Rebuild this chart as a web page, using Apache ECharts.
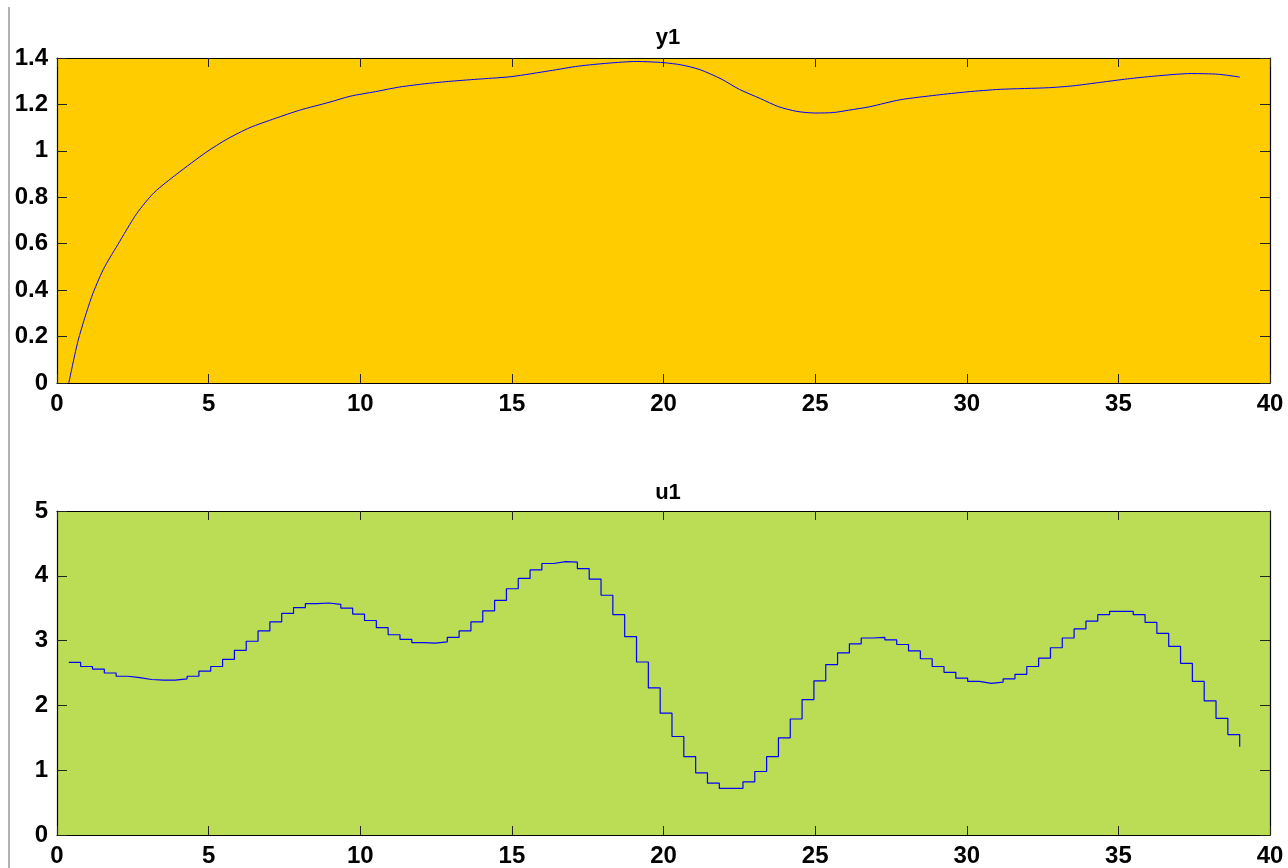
<!DOCTYPE html>
<html>
<head>
<meta charset="utf-8">
<script src="https://cdn.jsdelivr.net/npm/echarts@6/dist/echarts.min.js"></script>
<style>
html,body{margin:0;padding:0;background:#fff;}
#chart{width:1288px;height:868px;}
</style>
</head>
<body>
<div id="chart"></div>
<script>
// ---- data ----
const titles = ['y1', 'u1'];
const xTicks = [0, 5, 10, 15, 20, 25, 30, 35, 40];
const y1Ticks = [0, 0.2, 0.4, 0.6, 0.8, 1, 1.2, 1.4];
const u1Ticks = [0, 1, 2, 3, 4, 5];

// y1 curve: [time, value] pairs
const y1Time = [0.39, 0.7, 1.14, 1.53, 2.0, 2.63, 3.2, 3.95, 4.93, 5.6, 6.36, 7.2, 8.0, 9.0, 9.66,
  10.5, 11.3, 12.2, 13, 14, 15, 16.25, 17.2, 18.2, 19.1, 20, 20.6, 21.2, 21.9, 22.5, 23.2, 23.8,
  24.4, 25, 25.6, 26.1, 26.8, 27.8, 29, 30, 31.1, 32.7, 33.5, 34.4, 35.3, 36.2, 37.4, 38.3, 39];
const y1Values = [0, 0.185, 0.37, 0.49, 0.595, 0.73, 0.82, 0.9, 0.995, 1.05, 1.1, 1.14, 1.175, 1.21, 1.235,
  1.255, 1.275, 1.29, 1.3, 1.31, 1.32, 1.345, 1.365, 1.378, 1.385, 1.38, 1.37, 1.35, 1.31, 1.265, 1.225, 1.19,
  1.17, 1.163, 1.165, 1.175, 1.19, 1.22, 1.24, 1.254, 1.265, 1.272, 1.28, 1.295, 1.31, 1.322, 1.333, 1.33, 1.318];

// u1 staircase: sample period and sample values
const u1SamplePeriod = 0.39;
const u1Values = [2.665, 2.60, 2.56, 2.50, 2.45, 2.43, 2.40, 2.39, 2.39, 2.41,
  2.45, 2.53, 2.60, 2.71, 2.85, 2.99, 3.15, 3.29, 3.42, 3.51,
  3.57, 3.58, 3.56, 3.50, 3.41, 3.31, 3.20, 3.09, 3.02, 2.97,
  2.96, 2.98, 3.05, 3.15, 3.29, 3.46, 3.62, 3.80, 3.96, 4.09,
  4.19, 4.22, 4.21, 4.11, 3.95, 3.70, 3.40, 3.06, 2.67, 2.27,
  1.88, 1.52, 1.21, 0.96, 0.80, 0.72, 0.72, 0.82, 0.98, 1.21,
  1.50, 1.79, 2.09, 2.38, 2.63, 2.81, 2.95, 3.04, 3.05, 3.01,
  2.94, 2.84, 2.72, 2.60, 2.51, 2.42, 2.37, 2.34, 2.36, 2.41,
  2.48, 2.60, 2.73, 2.89, 3.04, 3.18, 3.30, 3.40, 3.45, 3.45,
  3.40, 3.28, 3.11, 2.91, 2.65, 2.37, 2.07, 1.80, 1.55, 1.36];

// ---- chart ----
const y1Data = y1Time.map((t, i) => [t, y1Values[i]]);
const u1Data = u1Values.map((v, i) => [+(u1SamplePeriod * (i + 1)).toFixed(2), v]);

const FONT = 'Liberation Sans';
const labelStyle = { color: '#000', fontFamily: FONT, fontWeight: 'bold', fontSize: 24 };
const G = [
  { left: 57, top: 58, width: 1213, height: 325 },
  { left: 57, top: 511, width: 1213, height: 327 }
];
const bg = ['#ffcc00', '#bbdd55'];

function xAx(grid, pos, showLabel) {
  return {
    type: 'value', gridIndex: grid, position: pos, min: xTicks[0], max: xTicks[xTicks.length - 1],
    interval: xTicks[1] - xTicks[0],
    axisLine: { show: true, onZero: false, lineStyle: { color: '#000', width: 1.2 } },
    axisTick: { show: true, inside: true, length: 9, lineStyle: { color: '#222', width: 1 } },
    axisLabel: Object.assign({ show: showLabel, margin: 9 }, labelStyle),
    splitLine: { show: false }
  };
}
function yAx(grid, pos, ticks, showLabel) {
  return {
    type: 'value', gridIndex: grid, position: pos, min: ticks[0], max: ticks[ticks.length - 1],
    interval: +(ticks[1] - ticks[0]).toFixed(4),
    axisLine: { show: true, onZero: false, lineStyle: { color: '#000', width: 1.2 } },
    axisTick: { show: true, inside: true, length: 10, lineStyle: { color: '#222', width: 1 } },
    axisLabel: Object.assign({ show: showLabel, margin: 9 }, labelStyle),
    splitLine: { show: false }
  };
}

const chart = echarts.init(document.getElementById('chart'), null, { renderer: 'canvas' });
chart.setOption({
  animation: false,
  backgroundColor: '#fff',
  title: [
    { text: titles[0], left: 663, top: 22, textAlign: 'center',
      textStyle: { fontFamily: FONT, fontWeight: 'bold', fontSize: 22, color: '#000' } },
    { text: titles[1], left: 663, top: 477, textAlign: 'center',
      textStyle: { fontFamily: FONT, fontWeight: 'bold', fontSize: 22, color: '#000' } }
  ],
  grid: G.map((g, i) => Object.assign({ show: true, backgroundColor: bg[i], borderWidth: 0, containLabel: false }, g)),
  xAxis: [xAx(0, 'bottom', true), xAx(0, 'top', false), xAx(1, 'bottom', true), xAx(1, 'top', false)],
  yAxis: [yAx(0, 'left', y1Ticks, true), yAx(0, 'right', y1Ticks, false),
          yAx(1, 'left', u1Ticks, true), yAx(1, 'right', u1Ticks, false)],
  graphic: [{
    type: 'line', shape: { x1: 9, y1: 7, x2: 9, y2: 868 },
    style: { stroke: '#999', lineWidth: 1.5 }
  }],
  series: [
    { type: 'line', xAxisIndex: 0, yAxisIndex: 0, data: y1Data, showSymbol: false, smooth: 0.25,
      lineStyle: { color: '#0000ff', width: 1 } },
    { type: 'line', xAxisIndex: 2, yAxisIndex: 2, data: u1Data, showSymbol: false, step: 'end',
      lineStyle: { color: '#0000ff', width: 1.2 } }
  ]
});
</script>
</body>
</html>
